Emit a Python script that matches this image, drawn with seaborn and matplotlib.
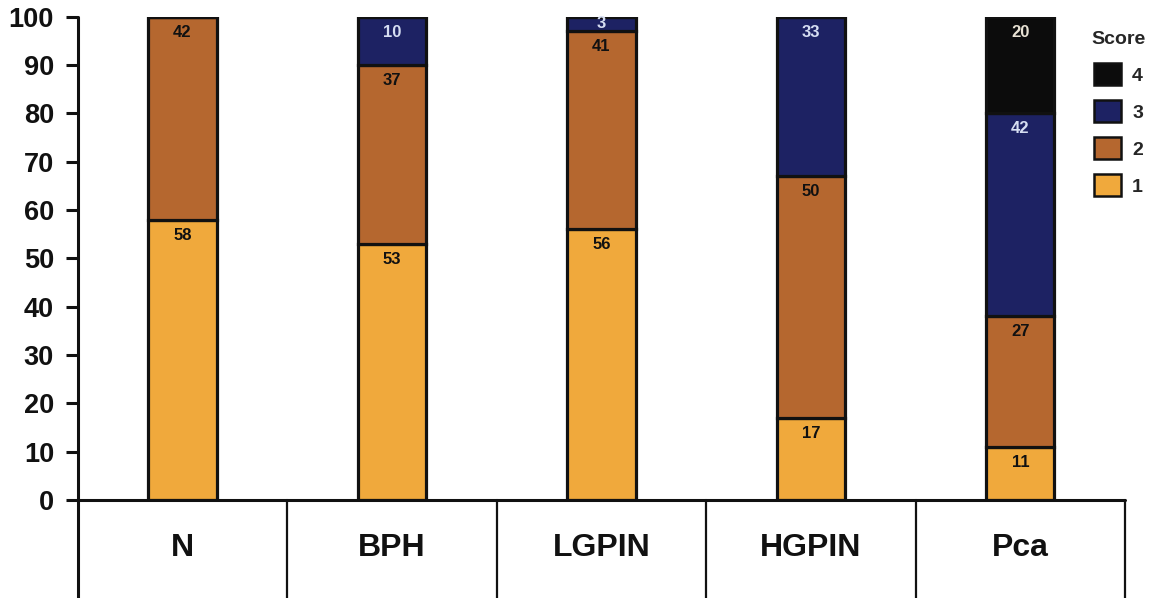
import numpy as np
import pandas as pd
import matplotlib.pyplot as plt
import seaborn as sns
from matplotlib.patches import Patch

# ---------------- data ----------------
groups = ["N", "BPH", "LGPIN", "HGPIN", "Pca"]
scores = ["1", "2", "3", "4"]
score1 = [58, 53, 56, 17, 11]
score2 = [42, 37, 41, 50, 27]
score3 = [0, 10, 3, 33, 42]
score4 = [0, 0, 0, 0, 20]
yticks = list(range(0, 101, 10))

colors = {"1": "#f0a93c", "2": "#b5672f", "3": "#1d2263", "4": "#0c0c0c"}
text_colors = {"1": "#111111", "2": "#111111", "3": "#d6def2", "4": "#e8e2d4"}

rows = []
for s, vals in zip(scores, [score1, score2, score3, score4]):
    for g, v in zip(groups, vals):
        rows.append({"group": g, "score": s, "pct": v})
df = pd.DataFrame(rows)

# ---------------- plot ----------------
sns.set_style("white")
plt.rcParams["font.family"] = ["Liberation Sans", "DejaVu Sans"]

fig = plt.figure(figsize=(11.6, 5.98), dpi=100)
ax = fig.add_axes([0.067, 0.164, 0.903, 0.808])

bottom = np.zeros(len(groups))
for s in scores:
    sub = df[df["score"] == s].set_index("group").loc[groups].reset_index()
    sns.barplot(data=sub, x="group", y="pct", order=groups, color=colors[s],
                bottom=bottom, width=0.325, errorbar=None, saturation=1,
                edgecolor="#111111", linewidth=2.3, ax=ax)
    for i, v in enumerate(sub["pct"]):
        if v > 0:
            # small segments get the label centred, others sit near the top
            off = v / 2 if v < 6 else 3.2
            ax.text(i, bottom[i] + v - off, str(v), ha="center", va="center",
                    fontsize=12, fontweight="bold", color=text_colors[s])
    bottom = bottom + sub["pct"].to_numpy()

ax.set_xlim(-0.5, len(groups) - 0.5)
ax.set_ylim(0, 100)
ax.set_yticks(yticks)
ax.set_yticklabels([str(t) for t in yticks], fontsize=19.5, fontweight="bold",
                   color="#111111")
ax.tick_params(axis="y", direction="out", length=9, width=2.2, pad=8, left=True,
               color="#111111")
ax.set_xticks([])
ax.set_xlabel("")
ax.set_ylabel("")

for side in ["top", "right", "left", "bottom"]:
    ax.spines[side].set_visible(False)

# axis lines + table-like category boxes below
ax.plot([-0.5, -0.5], [-30, 100], color="#111111", lw=2.2, clip_on=False)
ax.plot([-0.5, len(groups) - 0.5], [0, 0], color="#111111", lw=2.2, clip_on=False)
for k in range(1, len(groups) + 1):
    ax.plot([k - 0.5, k - 0.5], [0, -30], color="#111111", lw=1.6, clip_on=False)
for i, g in enumerate(groups):
    ax.text(i, -10, g, ha="center", va="center", fontsize=23,
            fontweight="bold", color="#111111", clip_on=False)

# legend
handles = [Patch(facecolor=colors[s], edgecolor="#111111", linewidth=1.8, label=s)
           for s in reversed(scores)]
leg = fig.legend(handles=handles, title="Score", loc="upper left",
                 bbox_to_anchor=(0.941, 0.948), frameon=False,
                 prop={"size": 14, "weight": "bold"}, handlelength=1.35,
                 handleheight=1.35, handletextpad=0.6, labelspacing=0.78,
                 borderaxespad=0, borderpad=0)
leg.get_title().set_fontweight("bold")
leg.get_title().set_fontsize(14)

fig.savefig("out.png", dpi=100)
